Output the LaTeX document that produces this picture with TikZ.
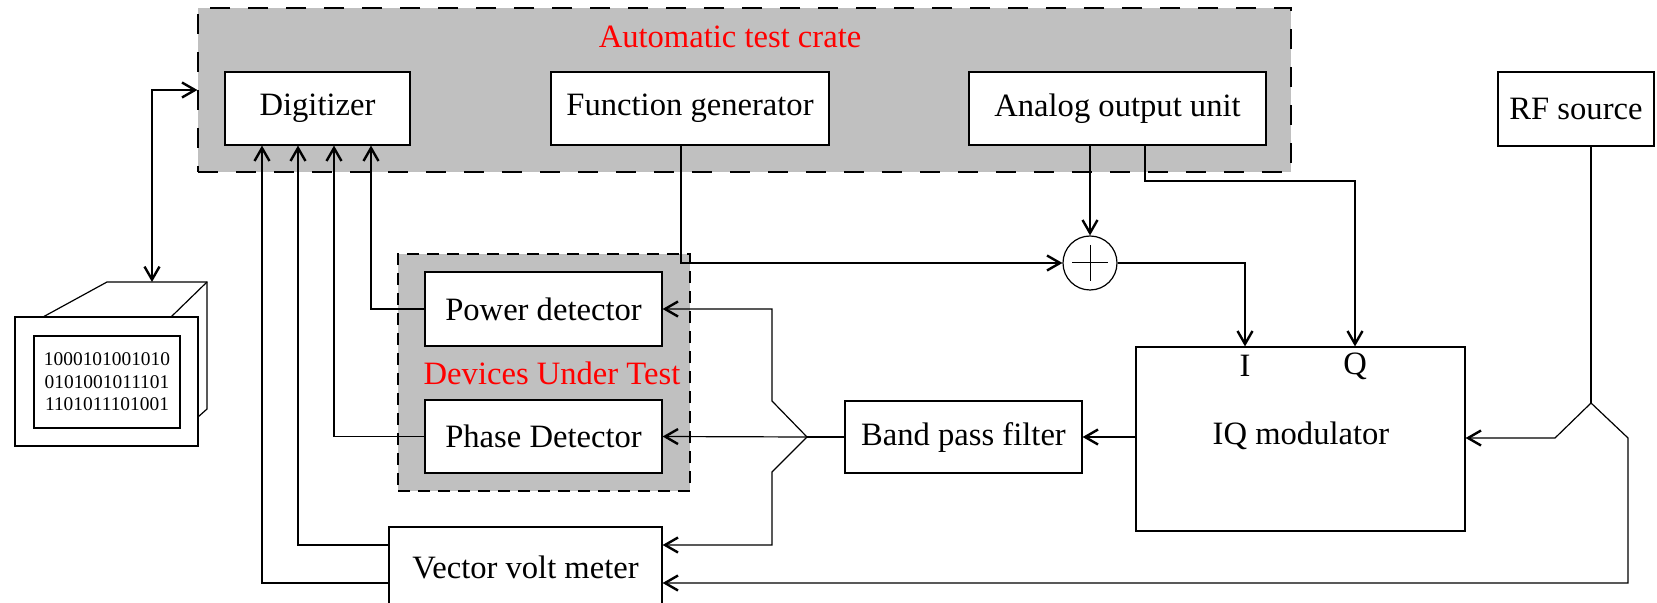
\documentclass[tikz,border=0pt]{standalone}
\usepackage{fontspec}
\setmainfont{Liberation Serif}
\usetikzlibrary{arrows.meta,calc}
\definecolor{cratebg}{RGB}{192,192,192}
\tikzset{
  box/.style={draw, fill=white, line width=0.6pt, inner sep=0pt, font=\fontsize{16.3}{19}\selectfont},
  group/.style={draw, fill=cratebg, line width=0.6pt, inner sep=0pt},
  redlabel/.style={text=red, inner sep=0pt, font=\fontsize{16.3}{19}\selectfont},
  plain/.style={inner sep=0pt, font=\fontsize{16.3}{19}\selectfont},
  wire/.style={line width=0.6pt},
  tipv/.tip={Straight Barb[length=6.5pt,width=7.5pt,line width=1.2pt]},
  arr/.style={wire, -tipv},
  darr/.style={wire, tipv-tipv}
}
\begin{document}
\begin{tikzpicture}[x=0.5pt,y=-0.5pt]
\useasboundingbox (0,0) rectangle (1657,603);

% groups
\node[group, dash pattern=on 10pt off 9pt, minimum width=546.5pt, minimum height=82pt] (crate) at (744.5,90) {};
\node[redlabel] (cratelbl) at (730,37) {Automatic test crate};
\node[group, dash pattern=on 6pt off 4pt, minimum width=146pt, minimum height=118.5pt] (dut) at (544,372.5) {};

% boxes
\node[box, minimum width=92.5pt, minimum height=36.5pt] (dig) at (317.5,108.5) {Digitizer};
\node[box, minimum width=139pt, minimum height=36.5pt] (fg) at (690,108.5) {Function generator};
\node[box, minimum width=148.5pt, minimum height=36.5pt] (aou) at (1117.5,108.5) {Analog output unit};
\node[box, minimum width=78pt, minimum height=37pt] (rf) at (1576,109) {RF source};
\node[box, minimum width=118.5pt, minimum height=37pt] (pwd) at (543.5,309) {Power detector};
\node[box, minimum width=118.5pt, minimum height=36.5pt] (phd) at (543.5,436.5) {Phase Detector};
\node[redlabel] (dutlbl) at (552,373) {Devices Under Test};
\node[box, minimum width=118.5pt, minimum height=36pt] (bpf) at (963.5,437) {Band pass filter};
\node[box, minimum width=164.5pt, minimum height=92pt] (iq) at (1300.5,439) {};
\node[plain] (iqlbl) at (1301,436) {IQ modulator};
\node[plain] (ilbl) at (1245,366) {I};
\node[plain] (qlbl) at (1355,366) {Q};
\node[box, minimum width=136.5pt, minimum height=40pt] (vvm) at (525.5,567) {Vector volt meter};

% summing junction
\node[draw, circle, wire, minimum size=27pt, inner sep=0pt, fill=white] (sum) at (1090,263) {};
\draw[line width=0.5pt] ($(sum.center)+(0,-18)$) -- ($(sum.center)+(0,18)$);
\draw[line width=0.5pt] ($(sum.center)+(-18,0)$) -- ($(sum.center)+(18,0)$);

% computer
\draw[wire] (43,317) -- (107,282) -- (207,282) -- (207,409) -- (198,417);
\draw[wire] (171,317) -- (207,282);
\node[draw, wire, fill=white, minimum width=91.5pt, minimum height=64.5pt] (pc) at (106.5,381.5) {};
\node[draw, wire, fill=white, minimum width=73pt, minimum height=46pt, inner sep=0pt,
      align=center, font=\fontsize{9.7}{11.2}\selectfont] (screen) at (107,382)
      {1000101001010\\0101001011101\\1101011101001};
\coordinate (pctop) at (152,282);

% helper coordinates
\coordinate (x1) at (262,0);
\coordinate (x2) at (298,0);
\coordinate (x3) at (334,0);
\coordinate (x4) at (371,0);
\coordinate (x5) at (681,0);
\coordinate (qbend) at (1145,181);
\coordinate (xI) at (1245,0);
\coordinate (xQ) at (1355,0);
\coordinate (yA) at (0,545);
\coordinate (yB) at (0,583);
\coordinate (bhub) at (807,437);
\coordinate (rfhub) at (1591,403);

% connectors
\draw[darr] (pctop) |- (crate.west);
\draw[arr] (vvm.west |- yB) -| (dig.south -| x1);
\draw[arr] (vvm.west |- yA) -| (dig.south -| x2);
\draw[arr] (phd.west) -| (dig.south -| x3);
\draw[arr] (pwd.west) -| (dig.south -| x4);

\draw[arr] (fg.south -| x5) |- (sum.west);
\draw[arr] (aou.south -| sum) -- (sum.north);
\draw[arr] (aou.south -| qbend) -- (qbend) -| (iq.north -| xQ);
\draw[arr] (sum.east) -| (iq.north -| xI);

\draw[wire] (rf.south -| rfhub) -- (rfhub);
\draw[arr] (rfhub) -- ++(-36,35) coordinate (rfl) -- (iq.east |- rfl);
\draw[arr] (rfhub) -- ++(37,35) |- (vvm.east |- yB);

\draw[arr] (iq.west |- bpf.east) -- (bpf.east);
\draw[wire] (bpf.west) -- (bhub);
\draw[arr] (bhub) -- (phd.east);
\draw[arr] (bhub) -- ++(-35,-36) |- (pwd.east);
\draw[arr] (bhub) -- ++(-35,35) |- (vvm.east |- yA);
\end{tikzpicture}
\end{document}
